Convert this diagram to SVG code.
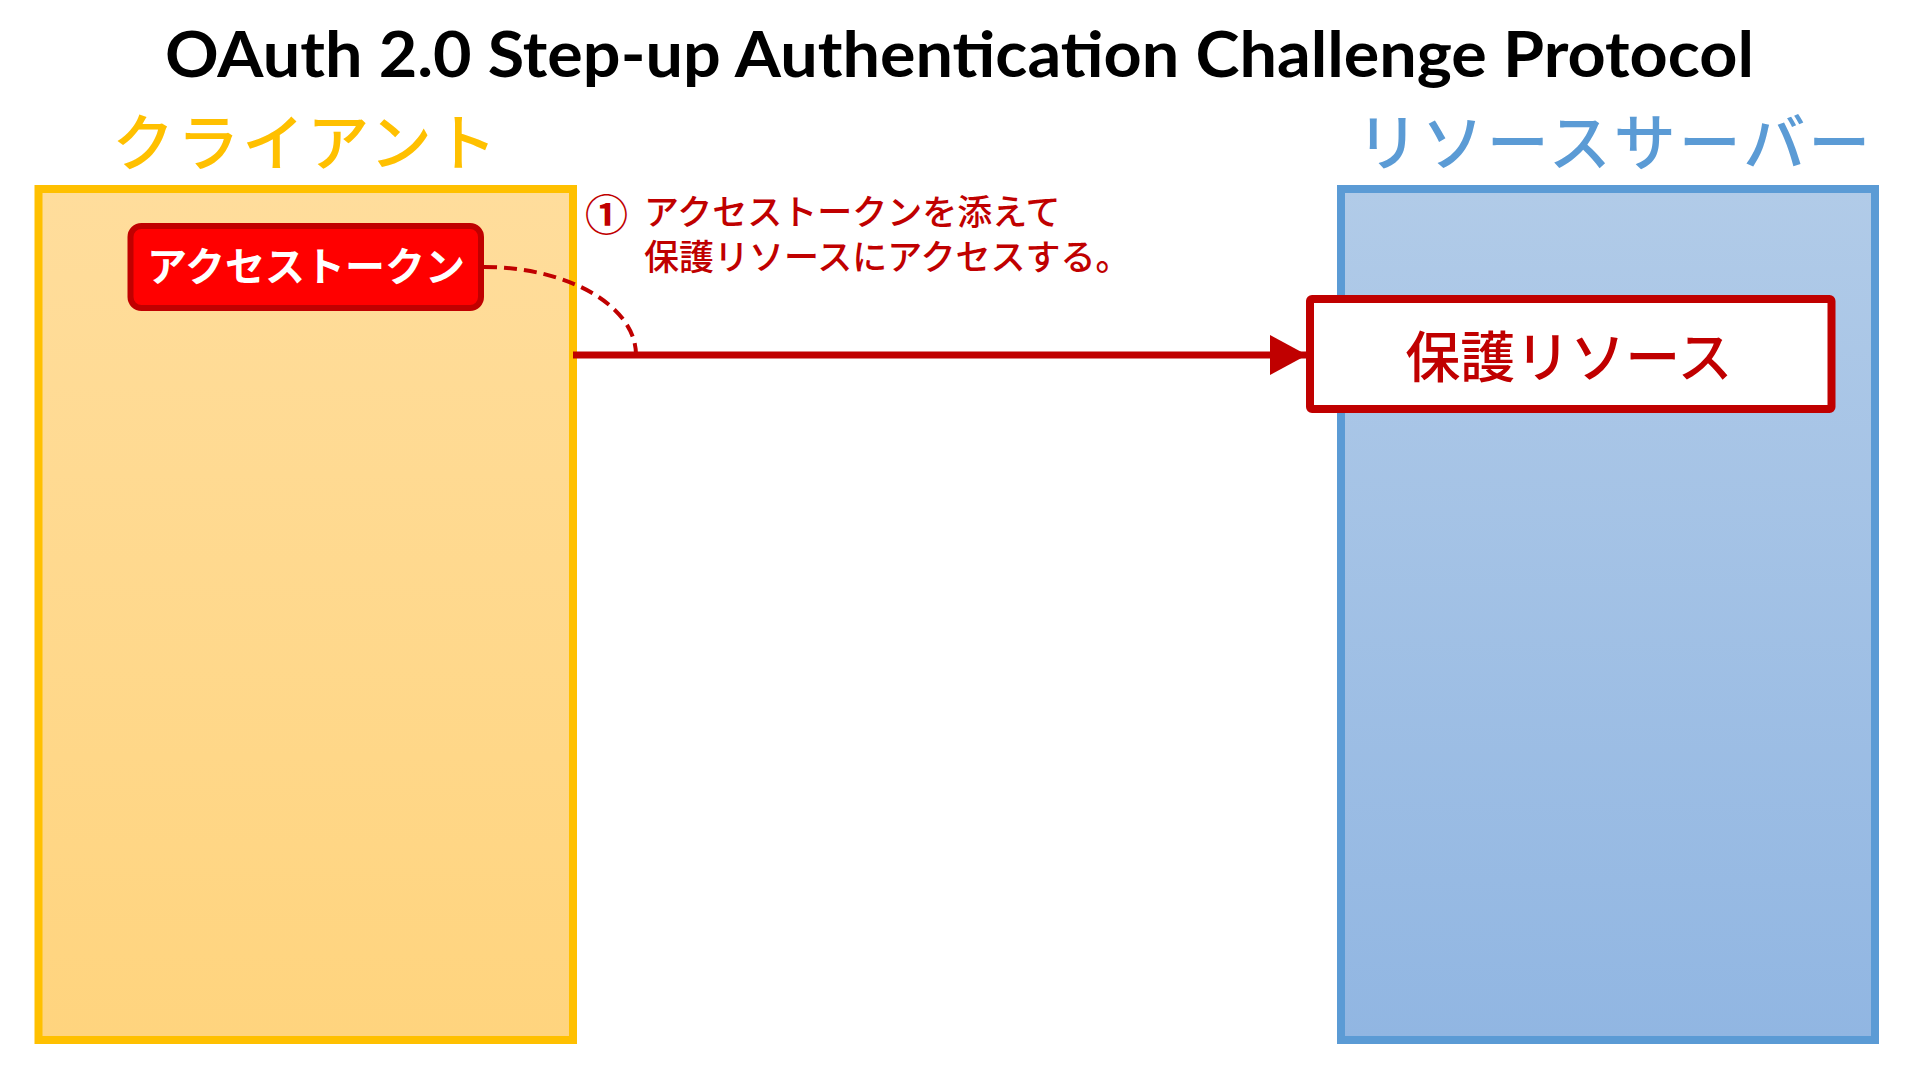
<svg xmlns="http://www.w3.org/2000/svg" width="1920" height="1080" viewBox="0 0 1920 1080">
  <defs>
    <linearGradient id="gClient" x1="0" y1="0" x2="0" y2="1">
      <stop offset="0" stop-color="#FFDD9C"/>
      <stop offset="1" stop-color="#FFD47E"/>
    </linearGradient>
    <linearGradient id="gServer" x1="0" y1="0" x2="0" y2="1">
      <stop offset="0" stop-color="#B1CBE8"/>
      <stop offset="1" stop-color="#91B6E2"/>
    </linearGradient>
    <marker id="arrowHead" markerWidth="37" markerHeight="40" refX="37" refY="20" orient="auto" markerUnits="userSpaceOnUse">
      <path d="M0,0 L37,20 L0,40 Z" fill="#C00000"/>
    </marker>
    <style>
      .jp { font-family: "Noto Sans CJK JP", "Noto Sans", sans-serif; }
      .title { font-family: Lato, "Liberation Sans", sans-serif; font-weight: bold; font-size: 64px; fill: #000; }
      .lane { stroke-width: 8; }
      .laneLabel { font-size: 62px; font-weight: 500; text-anchor: middle; letter-spacing: 3px; }
      .note { font-size: 35px; font-weight: 500; fill: #C00000; }
      .num { font-size: 43px; font-weight: bold; fill: #C00000; }
    </style>
  </defs>
  <rect width="1920" height="1080" fill="#FFFFFF"/>

  <text class="title" x="959.5" y="77" text-anchor="middle" textLength="1589" lengthAdjust="spacingAndGlyphs">OAuth 2.0 Step-up Authentication Challenge Protocol</text>

  <g id="client">
    <rect class="lane" x="38.5" y="189" width="534.5" height="851" fill="url(#gClient)" stroke="#FFC000"/>
    <text class="jp laneLabel" x="306" y="166" fill="#FFC000">クライアント</text>
  </g>

  <g id="resource-server">
    <rect class="lane" x="1341" y="189" width="534" height="851" fill="url(#gServer)" stroke="#5B9BD5"/>
    <text class="jp laneLabel" x="1615" y="166" fill="#5B9BD5">リソースサーバー</text>
  </g>

  <g id="access-token">
    <rect x="130.5" y="226" width="350.5" height="82" rx="11" ry="11" fill="#FF0000" stroke="#C00000" stroke-width="6"/>
    <text class="jp" x="306" y="281" font-size="40" font-weight="bold" fill="#FFFFFF" text-anchor="middle">アクセストークン</text>
  </g>

  <g id="protected-resource">
    <rect x="1310" y="299" width="521.5" height="110" rx="2" ry="2" fill="#FFFFFF" stroke="#C00000" stroke-width="8"/>
    <text class="jp" x="1569" y="377" font-size="55" font-weight="500" fill="#C00000" text-anchor="middle">保護リソース</text>
  </g>

  <g id="connectors">
    <path d="M484,267 C568,267 636,306 636,355" fill="none" stroke="#C00000" stroke-width="4" stroke-dasharray="13,7"/>
    <line x1="573" y1="355" x2="1307" y2="355" stroke="#C00000" stroke-width="7" marker-end="url(#arrowHead)"/>
  </g>

  <g id="step-label">
    <text class="jp num" x="585" y="231">①</text>
    <text class="jp note" x="644" y="225">アクセストークンを添えて</text>
    <text class="jp note" x="644" y="270">保護リソースにアクセスする。</text>
  </g>
</svg>
